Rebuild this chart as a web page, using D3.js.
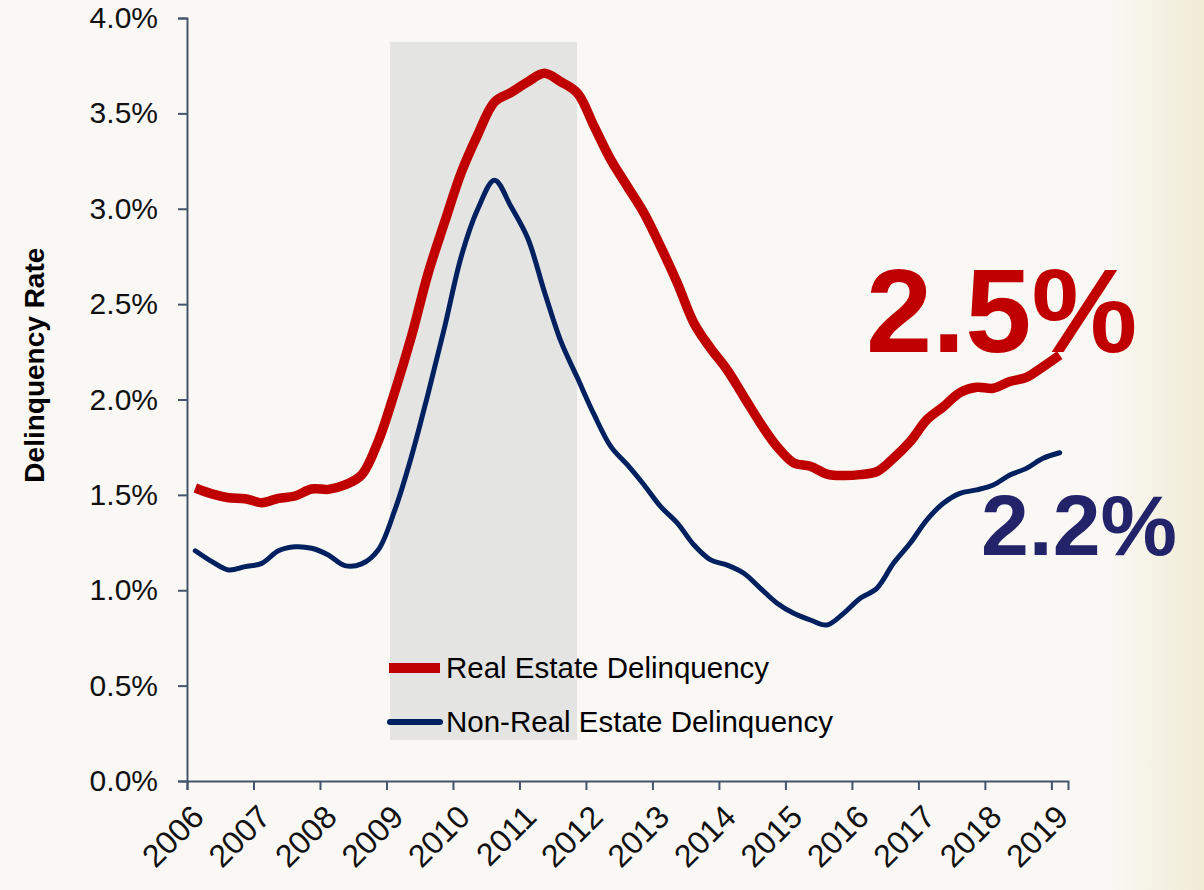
<!DOCTYPE html>
<html>
<head>
<meta charset="utf-8">
<script src="https://cdn.jsdelivr.net/npm/d3@7"></script>
<style>
  body { margin: 0; background: #f9f8f4; }
  svg { display: block; font-family: "Liberation Sans", Arial, sans-serif; }
</style>
</head>
<body>
<div id="chart"></div>
<script>
// quarterly series, 2006 Q1 .. 2019 Q1
const years = [2006, 2007, 2008, 2009, 2010, 2011, 2012, 2013, 2014, 2015, 2016, 2017, 2018, 2019]
const quarterCount = 53

const realEstate = [
  1.536, 1.505, 1.485, 1.480, 1.459, 1.482, 1.494, 1.531, 1.529, 1.552, 1.604, 1.780,
  2.040, 2.330, 2.660, 2.930, 3.190, 3.390, 3.560, 3.610, 3.665, 3.710, 3.665, 3.605,
  3.430, 3.256, 3.116, 2.976, 2.800, 2.610, 2.400, 2.268, 2.155, 2.015, 1.875, 1.753,
  1.668, 1.650, 1.609, 1.601, 1.606, 1.622, 1.692, 1.779, 1.893, 1.962, 2.036, 2.064,
  2.059, 2.094, 2.116, 2.172, 2.233
]

const nonRealEstate = [
  1.207, 1.150, 1.106, 1.124, 1.141, 1.207, 1.228, 1.220, 1.185, 1.129, 1.138, 1.211,
  1.420, 1.700, 2.030, 2.380, 2.750, 3.000, 3.150, 3.010, 2.845, 2.565, 2.303, 2.111,
  1.919, 1.753, 1.657, 1.552, 1.438, 1.352, 1.237, 1.159, 1.132, 1.089, 1.010, 0.932,
  0.879, 0.844, 0.818, 0.879, 0.958, 1.010, 1.141, 1.246, 1.368, 1.456, 1.508, 1.526,
  1.552, 1.604, 1.639, 1.692, 1.721
]

const yTicks = [0, 0.5, 1.0, 1.5, 2.0, 2.5, 3.0, 3.5, 4.0]

// recession shading, in quarter index / percent units
const recession = {start: 11.72, end: 22.96, low: 0.215, high: 3.875}

const seriesNames = ["Real Estate Delinquency", "Non-Real Estate Delinquency"]
const latestLabels = ["2.5%", "2.2%"]

const width = 1204
const height = 890
const margin = {top: 18, right: 136, bottom: 109, left: 187}

const x = d3.scaleLinear([-0.5, quarterCount - 0.5], [margin.left, width - margin.right])
const y = d3.scaleLinear([0, 4], [height - margin.bottom, margin.top])

const svg = d3.create("svg")
  .attr("width", width)
  .attr("height", height)

const grad = svg.append("defs").append("linearGradient")
  .attr("id", "paper")
  .attr("x1", 0).attr("x2", 1).attr("y1", 0).attr("y2", 0)
grad.append("stop").attr("offset", "0.92").attr("stop-color", "#f9f8f4")
grad.append("stop").attr("offset", "1").attr("stop-color", "#f1ecd5")

svg.append("rect")
  .attr("width", width)
  .attr("height", height)
  .attr("fill", "url(#paper)")

svg.append("rect")
  .attr("x", x(recession.start))
  .attr("y", y(recession.high))
  .attr("width", x(recession.end) - x(recession.start))
  .attr("height", y(recession.low) - y(recession.high))
  .attr("fill", "#e4e4e2")

// axes
const axisColor = "#44546a"

svg.append("g")
  .attr("transform", `translate(${margin.left},0)`)
  .call(d3.axisLeft(y)
    .tickValues(yTicks)
    .tickFormat(d => d.toFixed(1) + "%")
    .tickSize(9)
    .tickPadding(20))
  .call(g => g.selectAll("path, line").attr("stroke", axisColor).attr("stroke-width", 2))
  .call(g => g.selectAll("text")
    .attr("font-size", 30)
    .attr("font-family", "Liberation Sans, Arial, sans-serif")
    .attr("fill", "#111"))

const yearStarts = years.map((d, i) => i * 4)

svg.append("g")
  .attr("transform", `translate(0,${y(0)})`)
  .call(d3.axisBottom(x)
    .tickValues(yearStarts.map(d => d - 0.5))
    .tickFormat("")
    .tickSizeOuter(0)
    .tickSize(9))
  .call(g => g.selectAll("path, line").attr("stroke", axisColor).attr("stroke-width", 2))

svg.append("g")
  .attr("transform", `translate(0,${y(0)})`)
  .call(d3.axisBottom(x)
    .tickValues(yearStarts)
    .tickFormat((d, i) => years[i])
    .tickSize(0))
  .call(g => g.select(".domain").remove())
  .call(g => g.selectAll("text")
    .attr("font-size", 32)
    .attr("font-family", "Liberation Sans, Arial, sans-serif")
    .attr("fill", "#111")
    .attr("text-anchor", "end")
    .attr("dy", null)
    .attr("y", 0)
    .attr("transform", "translate(10,38) rotate(-45)"))

svg.append("text")
  .attr("transform", `translate(44,${y(2.18)}) rotate(-90)`)
  .attr("text-anchor", "middle")
  .attr("font-size", 28)
  .attr("font-weight", "bold")
  .attr("fill", "#000")
  .text("Delinquency Rate")

// lines
const line = d3.line()
  .x((d, i) => x(i))
  .y(d => y(d))
  .curve(d3.curveCatmullRom)

svg.append("path")
  .datum(nonRealEstate)
  .attr("fill", "none")
  .attr("stroke", "#002060")
  .attr("stroke-width", 5)
  .attr("stroke-linejoin", "round")
  .attr("stroke-linecap", "round")
  .attr("d", line)

svg.append("path")
  .datum(realEstate)
  .attr("fill", "none")
  .attr("stroke", "#c00000")
  .attr("stroke-width", 9.5)
  .attr("stroke-linejoin", "round")
  .attr("d", line)

// legend
const legend = svg.append("g")
  .attr("font-size", 29.5)
  .attr("fill", "#000")

const legendItems = [
  {name: seriesNames[0], color: "#c00000", w: 10, cap: "butt", x1: 389, x2: 440, cy: 668},
  {name: seriesNames[1], color: "#002060", w: 6, cap: "round", x1: 390, x2: 440, cy: 722}
]

legend.selectAll("g")
  .data(legendItems)
  .join("g")
    .call(g => g.append("line")
      .attr("x1", d => d.x1)
      .attr("x2", d => d.x2)
      .attr("y1", d => d.cy)
      .attr("y2", d => d.cy)
      .attr("stroke", d => d.color)
      .attr("stroke-width", d => d.w)
      .attr("stroke-linecap", d => d.cap))
    .call(g => g.append("text")
      .attr("x", 446)
      .attr("y", d => d.cy + 10)
      .text(d => d.name))

// latest value callouts
svg.append("text")
  .attr("x", 866)
  .attr("y", 352)
  .attr("font-size", 119)
  .attr("font-weight", "bold")
  .attr("fill", "#c00000")
  .text(latestLabels[0])

svg.append("text")
  .attr("x", 981)
  .attr("y", 555)
  .attr("font-size", 86)
  .attr("font-weight", "bold")
  .attr("fill", "#23236a")
  .text(latestLabels[1])

d3.select("#chart").append(() => svg.node())
</script>
</body>
</html>
